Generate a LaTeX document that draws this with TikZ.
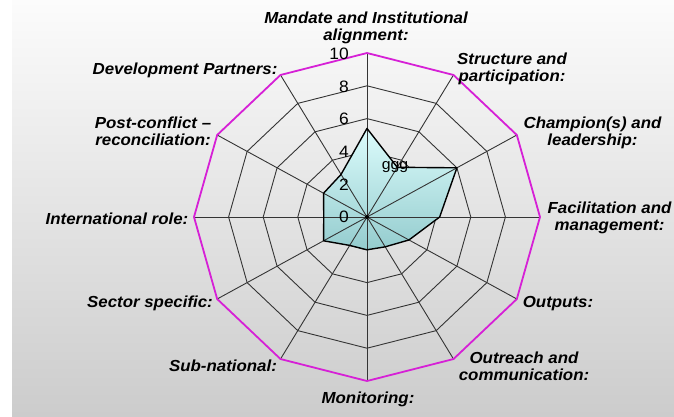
\documentclass[tikz,border=0pt]{standalone}
\usepackage{fontspec}
\setmainfont{Liberation Sans}
\definecolor{mag}{RGB}{214,32,214}
\definecolor{gridc}{RGB}{52,52,52}
\definecolor{filltop}{RGB}{220,252,252}
\definecolor{fillbot}{RGB}{148,204,206}
\definecolor{bgtop}{RGB}{252,252,252}
\definecolor{bgbot}{RGB}{204,204,204}
\begin{document}
\begin{tikzpicture}[x=1pt,y=1pt,
  lab/.style={font=\fontsize{16}{17}\selectfont\bfseries\itshape, align=center, inner sep=0pt, xscale=1.055},
  tick/.style={font=\fontsize{16.5}{16.5}\selectfont, inner sep=0pt, anchor=east, xscale=1.055},
  gridline/.style={draw=gridc, line width=0.9pt},
  outerring/.style={draw=mag, line width=1.8pt, line join=round},
  series/.style={draw=black, line width=1.4pt, line join=round}]
\useasboundingbox (0,0) rectangle (674,-416);
\fill[white] (0,0) rectangle (674,-416);
\shade[top color=bgtop, bottom color=bgbot] (12,0) rectangle (674,-416);

\begin{scope}[shift={(367,-217)}, x=173pt, y=164pt]
  \coordinate (c) at (0,0);
  \foreach \k in {0,...,11} {
    \coordinate (o\k) at ({90-30*\k}:1);
  }
  % inner rings
  \foreach \r in {0.2,0.4,0.6,0.8} {
    \draw[gridline] (90:\r) \foreach \k in {1,...,11} { -- ({90-30*\k}:\r) } -- cycle;
  }
  % data polygon
  \foreach \k/\v in {0/0.54,1/0.35,2/0.60,3/0.42,4/0.28,5/0.21,6/0.20,7/0.20,8/0.29,9/0.25,10/0.29,11/0.30} {
    \coordinate (p\k) at ({90-30*\k}:\v);
  }
  \shade[top color=filltop, bottom color=fillbot]
    (p0) -- (p1) -- (p2) -- (p3) -- (p4) -- (p5) -- (p6) -- (p7) -- (p8) -- (p9) -- (p10) -- (p11) -- cycle;
  % spokes
  \foreach \k in {0,...,11} {
    \draw[gridline] (c) -- (o\k);
  }
  % outer ring
  \draw[outerring] (o0) -- (o1) -- (o2) -- (o3) -- (o4) -- (o5) -- (o6) -- (o7) -- (o8) -- (o9) -- (o10) -- (o11) -- cycle;
  % series border
  \draw[series] (p0) -- (p1) -- (p2) -- (p3) -- (p4) -- (p5) -- (p6) -- (p7) -- (p8) -- (p9) -- (p10) -- (p11) -- cycle;
  \fill[black] (c) circle[radius=2pt];
\end{scope}

% tick labels
\node[tick] (t10) at (349,-54) {10};
\node[tick] (t8) at (349,-86.5) {8};
\node[tick] (t6) at (349,-119) {6};
\node[tick] (t4) at (349,-151.5) {4};
\node[tick] (t2) at (349,-184.5) {2};
\node[tick] (t0) at (349,-217) {0};

\node[font=\fontsize{15}{15}\selectfont, inner sep=0pt, xscale=1.055] (ggg) at (395,-167.5) {ggg};

% axis labels
\node[lab] (l0) at (366,-28.3) {Mandate and Institutional\\alignment:};
\node[lab] (l1) at (512,-69) {Structure and\\participation:};
\node[lab] (l2) at (592.5,-132.5) {Champion(s) and\\leadership:};
\node[lab] (l3) at (609.5,-217.5) {Facilitation and\\management:};
\node[lab] (l4) at (558,-303.5) {Outputs:};
\node[lab] (l5) at (524,-366) {Outreach and\\communication:};
\node[lab] (l6) at (368,-399.5) {Monitoring:};
\node[lab] (l7) at (223,-365.5) {Sub-national:};
\node[lab] (l8) at (150,-303) {Sector specific:};
\node[lab] (l9) at (117,-218.5) {International role:};
\node[lab] (l10) at (153,-131) {Post-conflict --\\reconciliation:};
\node[lab] (l11) at (185,-70) {Development Partners:};
\end{tikzpicture}
\end{document}
